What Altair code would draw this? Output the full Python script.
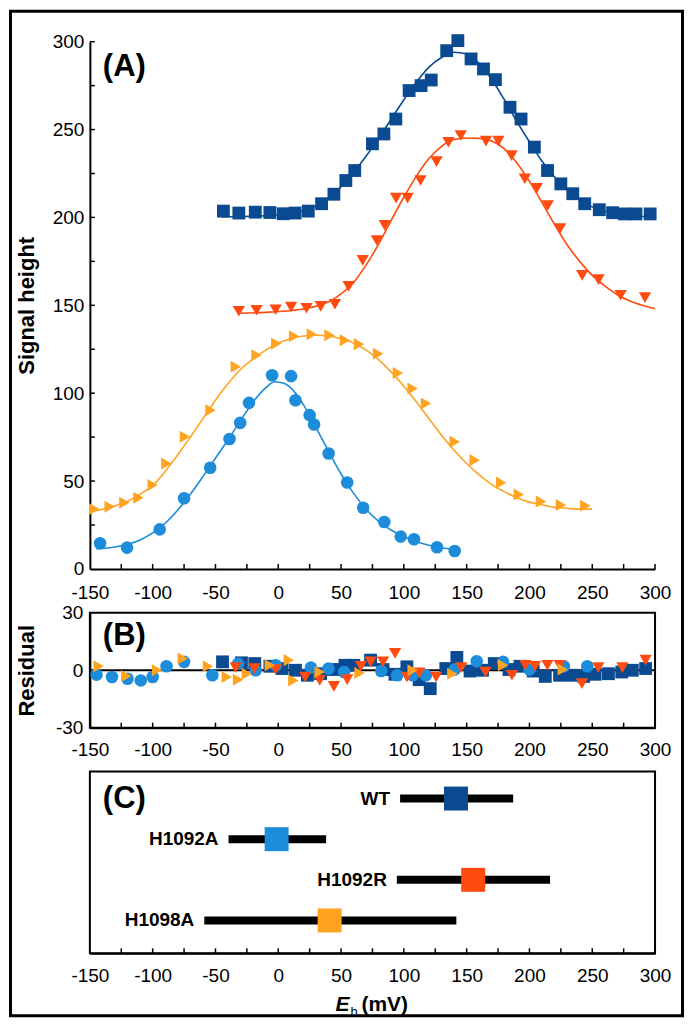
import altair as alt
import pandas as pd

SERIES = ["WT", "H1092A", "H1092R", "H1098A"]
COLORS = ["#0a4a90", "#1c8cdb", "#ff4b0f", "#ffa321"]
SHAPES = ["square", "circle", "triangle-down", "triangle-right"]

# ---- Panel A: measured points ----
wt_x = [-43.7, -31.4, -18.3, -6.7, 3.9, 13.4, 23.9, 34.5, 44.3, 53.8, 60.9, 75.0, 84.1, 93.6, 104.2, 113.7, 121.8, 134.1,
        143.0, 153.5, 163.4, 172.9, 184.5, 193.3, 203.9, 214.4, 225.0, 234.5, 244.0, 255.6, 266.2, 275.7, 284.8, 296.1]
wt_y = [203.6, 202.5, 203.0, 202.8, 202.1, 202.5, 203.6, 207.8, 213.2, 221.0, 226.7, 241.9, 247.5, 256.0, 272.2, 275.0,
        278.2, 294.9, 300.6, 290.2, 284.5, 278.4, 262.7, 256.0, 240.0, 226.7, 219.1, 213.5, 207.8, 204.4, 202.7, 202.0,
        202.0, 202.0]
a_x = [-141.9, -120.4, -94.4, -75.0, -54.2, -38.8, -30.3, -23.3, -4.9, 10.2, 13.7, 25.0, 28.5, 40.1, 54.9, 67.6, 84.4,
       97.5, 108.1, 126.4, 140.5]
a_y = [14.6, 12.1, 22.5, 40.2, 57.6, 73.9, 83.1, 94.5, 110.2, 109.7, 96.0, 87.5, 82.2, 65.7, 49.2, 34.8, 26.7, 18.4,
       16.9, 12.3, 10.2]
r_x = [-31.4, -17.3, -2.1, 10.2, 22.5, 33.8, 45.1, 56.0, 67.2, 78.5, 84.8, 93.8, 103.0, 113.3, 126.0, 135.5, 145.3,
       165.4, 175.3, 185.8, 196.3, 205.8, 214.6, 224.4, 242.0, 255.0, 272.6, 292.0]
r_y = [146.6, 147.2, 147.5, 149.0, 148.3, 149.4, 150.6, 160.8, 175.6, 186.9, 195.5, 211.0, 211.0, 221.0, 231.8, 242.8,
       246.6, 243.4, 243.4, 235.2, 222.0, 216.5, 206.8, 193.6, 167.0, 164.6, 155.7, 154.4]
o_x = [-146.5, -134.2, -122.5, -111.3, -100.0, -89.1, -74.3, -53.9, -33.8, -17.3, -1.6, 12.6, 26.7, 40.8, 53.1, 64.3,
       79.5, 95.3, 107.0, 117.6, 140.5, 156.4, 177.5, 191.6, 209.2, 225.1, 244.5]
o_y = [34.1, 35.4, 37.7, 40.5, 47.7, 60.0, 75.2, 90.3, 115.0, 121.6, 128.2, 132.4, 133.5, 133.0, 130.1, 127.8, 122.5,
       111.5, 102.7, 94.1, 72.3, 61.9, 49.1, 42.4, 38.3, 36.4, 36.0]

# ---- Panel A: fitted curves ----
wt_fx = [-45, -30, -10, 10, 20, 30, 40, 50, 60, 70, 80, 90, 100, 110, 120, 130, 140, 150, 160, 170, 180, 190, 200,
         210, 220, 230, 240, 250, 260, 270, 280, 290, 300]
wt_fy = [200.3, 200.5, 201.0, 202.2, 203.8, 206.5, 211.0, 217.5, 225.5, 235.0, 245.0, 256.0, 267.0, 277.0, 285.5,
         291.0, 294.0, 293.0, 287.5, 278.5, 267.0, 254.5, 243.0, 232.0, 223.0, 215.5, 210.0, 206.0, 203.5, 202.0,
         201.0, 200.5, 200.2]
a_fx = [-145, -130, -120, -110, -100, -90, -80, -70, -60, -50, -40, -30, -20, -10, -3, 5, 10, 20, 30, 40, 50, 60, 70,
        80, 90, 100, 110, 120, 130, 140]
a_fy = [11.5, 12.5, 14.0, 16.5, 20.5, 26.0, 33.5, 42.5, 52.5, 63.0, 73.5, 84.5, 95.0, 103.0, 106.5, 105.5, 103.0, 93.5,
        80.5, 67.0, 54.0, 43.0, 34.0, 27.0, 22.0, 18.5, 15.5, 13.5, 12.0, 11.0]
r_fx = [-30, -10, 10, 30, 40, 50, 60, 70, 80, 90, 100, 110, 120, 130, 140, 150, 160, 170, 180, 190, 200, 210, 220,
        230, 240, 250, 260, 270, 280, 290, 300]
r_fy = [145.5, 146.0, 147.0, 149.5, 152.0, 156.5, 163.0, 173.0, 185.0, 198.5, 211.5, 223.5, 233.5, 240.5, 244.3,
        245.2, 245.0, 243.5, 239.0, 231.0, 220.5, 208.5, 196.0, 184.5, 175.0, 167.0, 161.0, 156.0, 152.5, 150.0, 148.0]
o_fx = [-150, -140, -130, -120, -110, -100, -90, -80, -70, -60, -50, -40, -30, -20, -10, 0, 10, 20, 30, 40, 50, 60,
        70, 80, 90, 100, 110, 120, 130, 140, 150, 160, 170, 180, 190, 200, 210, 220, 230, 240, 250]
o_fy = [32.5, 34.0, 36.0, 38.5, 42.5, 47.5, 55.5, 65.0, 75.0, 85.5, 96.0, 105.5, 113.5, 119.5, 124.5, 128.5, 131.0,
        132.5, 133.0, 132.5, 131.0, 128.5, 124.5, 119.0, 112.0, 104.0, 95.0, 85.5, 76.0, 67.5, 60.0, 53.5, 48.0, 44.0,
        40.5, 38.0, 36.5, 35.0, 34.5, 34.0, 34.0]

# ---- Panel B: residuals ----
rwt_x = [-44.4, -29.3, -18.7, -6.7, 3.1, 13.7, 23.2, 33.7, 43.6, 53.1, 60.1, 73.5, 83.4, 92.9, 102.4, 112.2, 121.0,
         133.4, 142.2, 152.7, 162.6, 172.0, 183.7, 192.5, 203.0, 212.6, 224.0, 233.7, 243.2, 252.3, 262.9, 273.5,
         281.9, 292.5]
rwt_y = [4.4, 3.9, 3.5, 2.1, 0.9, 0.0, -2.6, -1.8, 0.4, 2.6, 2.6, 5.3, 0.4, -2.1, 1.8, -4.9, -9.6, 0.9, 6.7, -0.4, 0.0,
         3.5, 0.4, 2.1, -0.4, -3.2, -2.6, -2.6, -3.2, -2.1, -1.8, -0.9, 0.0, 0.9]
ra_x = [-144.7, -132.4, -120.0, -109.5, -100.0, -89.0, -75.0, -52.5, -32.0, -18.0, -2.0, 26.0, 40.0, 52.4, 82.0, 94.6,
        107.0, 117.5, 140.4, 158.0, 179.0, 200.0, 227.4, 246.0]
ra_y = [-2.3, -3.5, -4.4, -5.3, -3.5, 2.1, 4.4, -2.6, 3.5, 0.0, 2.6, 1.4, 0.9, -0.9, -0.4, -2.6, -2.6, -2.6, 0.4, 4.7,
        4.4, 0.4, 2.1, 2.1]
rr_x = [-34.0, -19.0, -2.0, 21.4, 33.0, 44.3, 54.9, 65.8, 73.6, 83.4, 93.0, 102.4, 112.3, 125.7, 145.7, 165.0, 186.0,
        196.7, 204.5, 214.3, 224.0, 241.8, 254.8, 274.0, 292.5]
rr_y = [1.4, 0.9, 0.4, -3.5, -5.3, -8.4, -4.9, 2.1, 4.4, 4.4, 8.8, -3.5, -1.4, -3.5, 1.4, -0.9, -2.6, 2.6, 2.1, 2.6,
        2.6, -7.0, 1.4, 1.4, 5.3]
ro_x = [-143.0, -121.0, -96.5, -76.0, -56.0, -41.0, -32.0, -25.0, -6.7, 8.4, 12.0, 33.0, 64.7, 107.0, 138.6, 179.0,
        226.6]
ro_y = [2.1, -3.0, 0.0, 6.1, 2.1, -3.5, -4.9, -1.8, 2.6, 5.3, -5.3, -0.9, -1.4, 0.0, -1.8, 2.6, 0.4]

# ---- Panel C: midpoint potentials with ranges ----
c_names = ["WT", "H1092A", "H1092R", "H1098A"]
c_em = [141.5, -1.3, 155.2, 40.9]
c_low = [97.0, -39.6, 94.4, -58.9]
c_high = [187.0, 38.1, 216.4, 141.8]
c_row = [0, 1, 2, 3]

x_ticks_labels = list(range(-150, 301, 50))
x_minor = list(range(-125, 301, 25))
yA_labels = list(range(0, 301, 50))
yA_minor = list(range(25, 301, 25))


def long(items):
    rows = []
    for name, xs, ys in items:
        for x, y in zip(xs, ys):
            rows.append({"s": name, "x": x, "y": y})
    return pd.DataFrame(rows)


pts = long([("WT", wt_x, wt_y), ("H1092A", a_x, a_y), ("H1092R", r_x, r_y), ("H1098A", o_x, o_y)])
fits = long([("WT", wt_fx, wt_fy), ("H1092A", a_fx, a_fy), ("H1092R", r_fx, r_fy), ("H1098A", o_fx, o_fy)])
res = long([("WT", rwt_x, rwt_y), ("H1092A", ra_x, ra_y), ("H1092R", rr_x, rr_y), ("H1098A", ro_x, ro_y)])
cdf = pd.DataFrame({"s": c_names, "em": c_em, "low": c_low, "high": c_high, "row": c_row})

FONT = "Liberation Sans"
W = 566
HA, HB, HC = 528, 115, 182
LBL = "'' + datum.value"
xscale = alt.Scale(domain=[-150, 300], nice=False, zero=False)
color = alt.Color("s:N", scale=alt.Scale(domain=SERIES, range=COLORS), legend=None)
shape = alt.Shape("s:N", scale=alt.Scale(domain=SERIES, range=SHAPES), legend=None)


def xaxis(pad):
    return alt.Axis(values=x_ticks_labels, labelPadding=pad, ticks=False, title=None, grid=False,
                    labelOverlap=False, labelExpr=LBL, labelFlush=False,
                    labelFontSize=19, labelFont=FONT, labelColor="black", domainColor="black", domainWidth=2)


def yaxis(vals, pad, title, h):
    return alt.Axis(values=vals, ticks=False, grid=False, labelPadding=pad, labelOverlap=False, labelExpr=LBL,
                    title=title, titleFont=FONT, titleFontSize=22,
                    titleFontWeight="bold", titleColor="black", titleX=-56,
                    titleY=h / 2, titleBaseline="alphabetic", titleAngle=270,
                    labelFontSize=19, labelFont=FONT, labelColor="black",
                    domainColor="black", domainWidth=2)


def inward_x(h, pad):
    return alt.Chart(pd.DataFrame({"t": x_minor})).mark_rule(color="black", strokeWidth=1.5).encode(
        x=alt.X("t:Q", scale=xscale, axis=xaxis(pad)), y=alt.value(h), y2=alt.value(h - 5))


def label(txt, y):
    return alt.Chart(pd.DataFrame({"t": [txt]})).mark_text(
        align="left", baseline="middle", font=FONT, fontSize=31, fontWeight="bold", color="black"
    ).encode(text="t:N", x=alt.value(13), y=alt.value(y))


# ---------- Panel A ----------
yA = alt.Scale(domain=[0, 300], nice=False)
axA = yaxis(yA_labels, 6, "Signal height", HA)
a_lines = alt.Chart(fits).mark_line(strokeWidth=1.6, interpolate="monotone").encode(
    x=alt.X("x:Q", scale=xscale, axis=xaxis(15)),
    y=alt.Y("y:Q", scale=yA, axis=axA),
    color=color, detail="s:N")
a_pts = alt.Chart(pts).mark_point(filled=True, opacity=1).encode(
    x=alt.X("x:Q", scale=xscale, axis=xaxis(15)), y=alt.Y("y:Q", scale=yA, axis=axA), color=color, shape=shape,
    size=alt.Size("s:N", scale=alt.Scale(domain=SERIES, range=[165, 145, 185, 185]), legend=None))
a_yticks = alt.Chart(pd.DataFrame({"t": yA_minor})).mark_rule(color="black", strokeWidth=1.5).encode(
    y=alt.Y("t:Q", scale=yA, axis=axA), x=alt.value(0), x2=alt.value(5))
frame = alt.Chart(pd.DataFrame({"t": [0]})).mark_rect(fill="transparent", stroke="black", strokeWidth=3).encode(
    x=alt.value(-79.5), x2=alt.value(593.5), y=alt.value(-30.5), y2=alt.value(975.5))

panelA = alt.layer(a_lines, a_pts, a_yticks, inward_x(HA, 15), label("(A)", 25), frame).properties(
    width=W, height=HA, view=alt.ViewBackground(stroke="transparent"))

# ---------- Panel B ----------
yB = alt.Scale(domain=[-30, 30], nice=False)
axB = yaxis([-30, 0, 30], 7, "Residual", HB)
b_zero = alt.Chart(pd.DataFrame({"z": [0]})).mark_rule(color="black", strokeWidth=2).encode(
    y=alt.Y("z:Q", scale=yB, axis=axB))
b_pts = alt.Chart(res).mark_point(filled=True, opacity=1).encode(
    x=alt.X("x:Q", scale=xscale, axis=xaxis(13)),
    y=alt.Y("y:Q", scale=yB, axis=axB),
    color=color, shape=shape,
    size=alt.Size("s:N", scale=alt.Scale(domain=SERIES, range=[50, 45, 60, 60]), legend=None))
panelB = alt.layer(b_zero, b_pts, inward_x(HB, 13), label("(B)", 23)).properties(
    width=W, height=HB, view=alt.ViewBackground(stroke="black", strokeWidth=2))

# ---------- Panel C ----------
yC = alt.Scale(domain=[-0.663, 3.81], nice=False, zero=False, reverse=True)
c_bars = alt.Chart(cdf).mark_rule(color="black", strokeWidth=8, strokeCap="butt").encode(
    x=alt.X("low:Q", scale=xscale, axis=xaxis(13)), x2="high:Q",
    y=alt.Y("row:Q", scale=yC, axis=None))
c_sq = alt.Chart(cdf).mark_point(shape="square", filled=True, opacity=1, size=576).encode(
    x=alt.X("em:Q", scale=xscale, axis=xaxis(13)), y=alt.Y("row:Q", scale=yC, axis=None), color=color)
c_txt = alt.Chart(cdf).mark_text(align="right", baseline="middle", dx=-10, font=FONT, fontSize=19,
                                 fontWeight="bold", color="black").encode(
    x=alt.X("low:Q", scale=xscale, axis=xaxis(13)), y=alt.Y("row:Q", scale=yC, axis=None), text="s:N")
t_E = alt.Chart(pd.DataFrame({"t": ["E"]})).mark_text(
    align="right", baseline="alphabetic", font=FONT, fontSize=21, fontWeight="bold", fontStyle="italic",
    color="black").encode(text="t:N", x=alt.value(260), y=alt.value(240))
t_h = alt.Chart(pd.DataFrame({"t": ["h"]})).mark_text(
    align="left", baseline="alphabetic", font=FONT, fontSize=13, color="black").encode(
    text="t:N", x=alt.value(261), y=alt.value(245))
t_mv = alt.Chart(pd.DataFrame({"t": ["(mV)"]})).mark_text(
    align="left", baseline="alphabetic", font=FONT, fontSize=21, fontWeight="bold", color="black").encode(
    text="t:N", x=alt.value(272), y=alt.value(240))
panelC = alt.layer(c_bars, c_sq, c_txt, inward_x(HC, 13), label("(C)", 27), t_E, t_h, t_mv).properties(
    width=W, height=HC, view=alt.ViewBackground(stroke="black", strokeWidth=2))

chart = alt.vconcat(panelA, panelB, panelC, spacing=44, bounds="flush").properties(padding=0).configure(
    font=FONT).configure_view(strokeWidth=2)

chart.save("out.html", embed_options={"renderer": "svg", "actions": False})
